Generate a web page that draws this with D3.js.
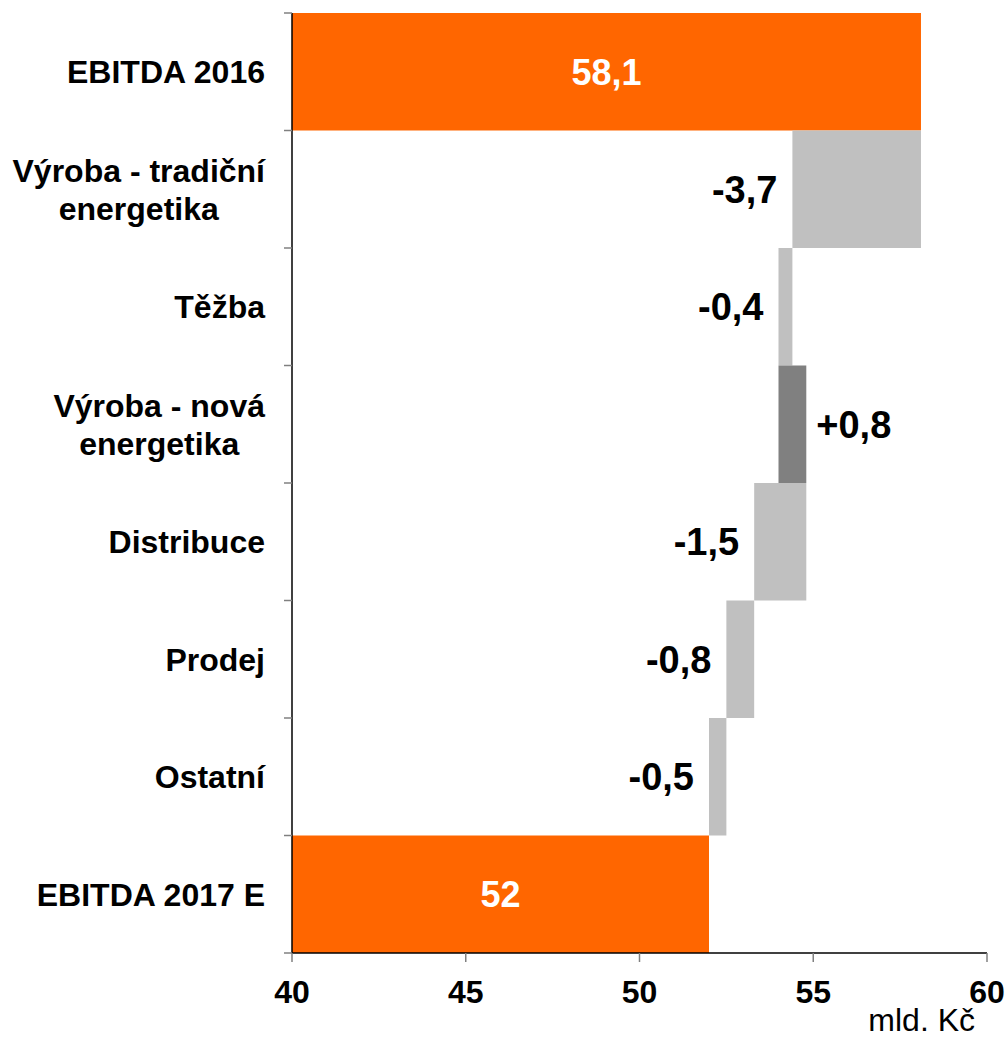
<!DOCTYPE html>
<html>
<head>
<meta charset="utf-8">
<script src="https://d3js.org/d3.v7.min.js"></script>
<style>
  body { margin: 0; background: #fff; }
  text { font-family: "Liberation Sans", Arial, sans-serif; }
</style>
</head>
<body>
<div id="chart"></div>
<script>
// data
const categories = [
  ["EBITDA 2016"],
  ["Výroba - tradiční", "energetika"],
  ["Těžba"],
  ["Výroba - nová", "energetika"],
  ["Distribuce"],
  ["Prodej"],
  ["Ostatní"],
  ["EBITDA 2017 E"]
];
const values = [58.1, -3.7, -0.4, 0.8, -1.5, -0.8, -0.5, 52];
const valueLabels = ["58,1", "-3,7", "-0,4", "+0,8", "-1,5", "-0,8", "-0,5", "52"];
const isTotal = [true, false, false, false, false, false, false, true];
const xTicks = [40, 45, 50, 55, 60];

const width = 1005, height = 1038;
const margin = { top: 13, right: 18, bottom: 85, left: 292 };
const innerW = width - margin.left - margin.right;
const innerH = height - margin.top - margin.bottom;

const svg = d3.select("#chart").append("svg")
  .attr("width", width)
  .attr("height", height);

const g = svg.append("g")
  .attr("transform", "translate(" + margin.left + "," + margin.top + ")");

const x = d3.scaleLinear().domain([40, 60]).range([0, innerW]);
const y = d3.scaleBand().domain(d3.range(categories.length)).range([0, innerH]).padding(0);

// waterfall start/end
let running = 0;
const bars = values.map(function(v, i) {
  let x0, x1;
  if (isTotal[i]) {
    x0 = 40; x1 = v; running = v;
  } else {
    x0 = running; x1 = running + v; running = x1;
  }
  return { i: i, v: v, lo: Math.min(x0, x1), hi: Math.max(x0, x1) };
});

function barColor(d) {
  if (isTotal[d.i]) return "#FF6600";
  return d.v < 0 ? "#C0C0C0" : "#808080";
}

g.selectAll("rect.bar")
  .data(bars)
  .enter()
  .append("rect")
  .attr("class", "bar")
  .attr("x", d => x(d.lo))
  .attr("y", d => y(d.i))
  .attr("width", d => x(d.hi) - x(d.lo))
  .attr("height", y.bandwidth())
  .attr("fill", barColor);

// value labels
g.selectAll("text.val")
  .data(bars)
  .enter()
  .append("text")
  .attr("class", "val")
  .attr("x", function(d) {
    if (isTotal[d.i]) return (x(d.lo) + x(d.hi)) / 2;
    return d.v < 0 ? x(d.lo) - 15 : x(d.hi) + 10;
  })
  .attr("y", d => y(d.i) + y.bandwidth() / 2)
  .attr("dy", "0.36em")
  .attr("text-anchor", function(d) {
    if (isTotal[d.i]) return "middle";
    return d.v < 0 ? "end" : "start";
  })
  .style("font-size", d => isTotal[d.i] ? "36px" : "38px")
  .style("font-weight", "bold")
  .attr("fill", d => isTotal[d.i] ? "#fff" : "#000")
  .text(d => valueLabels[d.i]);

// left axis: line and ticks at band boundaries
g.append("line")
  .attr("x1", 0).attr("x2", 0)
  .attr("y1", 0).attr("y2", innerH)
  .attr("stroke", "#000").attr("stroke-width", 1.5);

g.selectAll("line.ytick")
  .data(d3.range(categories.length + 1))
  .enter()
  .append("line")
  .attr("class", "ytick")
  .attr("x1", -8).attr("x2", 0)
  .attr("y1", d => d < categories.length ? y(d) : innerH)
  .attr("y2", d => d < categories.length ? y(d) : innerH)
  .attr("stroke", "#808080").attr("stroke-width", 1.5);

// category labels
const labelRight = -27;
const lab = g.selectAll("g.cat")
  .data(categories)
  .enter()
  .append("g")
  .attr("class", "cat");

lab.each(function(lines, i) {
  const grp = d3.select(this);
  const lh = 38;
  const cy = y(i) + y.bandwidth() / 2;
  const texts = lines.map(function(s, k) {
    return grp.append("text")
      .attr("y", cy + (k - (lines.length - 1) / 2) * lh)
      .attr("dy", "0.36em")
      .attr("text-anchor", "middle")
      .style("font-size", "32px")
      .style("font-weight", "bold")
      .attr("fill", "#000")
      .text(s);
  });
  const maxW = d3.max(texts, t => t.node().getComputedTextLength());
  texts.forEach(t => t.attr("x", labelRight - maxW / 2));
});

// bottom axis
g.append("line")
  .attr("x1", 0).attr("x2", innerW)
  .attr("y1", innerH).attr("y2", innerH)
  .attr("stroke", "#000").attr("stroke-width", 1.5);

g.selectAll("line.xtick")
  .data(xTicks)
  .enter()
  .append("line")
  .attr("class", "xtick")
  .attr("x1", d => x(d)).attr("x2", d => x(d))
  .attr("y1", innerH).attr("y2", innerH + 9)
  .attr("stroke", "#808080").attr("stroke-width", 1.5);

g.selectAll("text.xlab")
  .data(xTicks)
  .enter()
  .append("text")
  .attr("class", "xlab")
  .attr("x", d => x(d))
  .attr("y", innerH + 50)
  .attr("text-anchor", "middle")
  .style("font-size", "32px")
  .style("font-weight", "bold")
  .attr("fill", "#000")
  .text(d => d);

g.append("text")
  .attr("x", innerW - 12)
  .attr("y", innerH + 78)
  .attr("text-anchor", "end")
  .style("font-size", "32px")
  .attr("fill", "#000")
  .text("mld. Kč");
</script>
</body>
</html>
